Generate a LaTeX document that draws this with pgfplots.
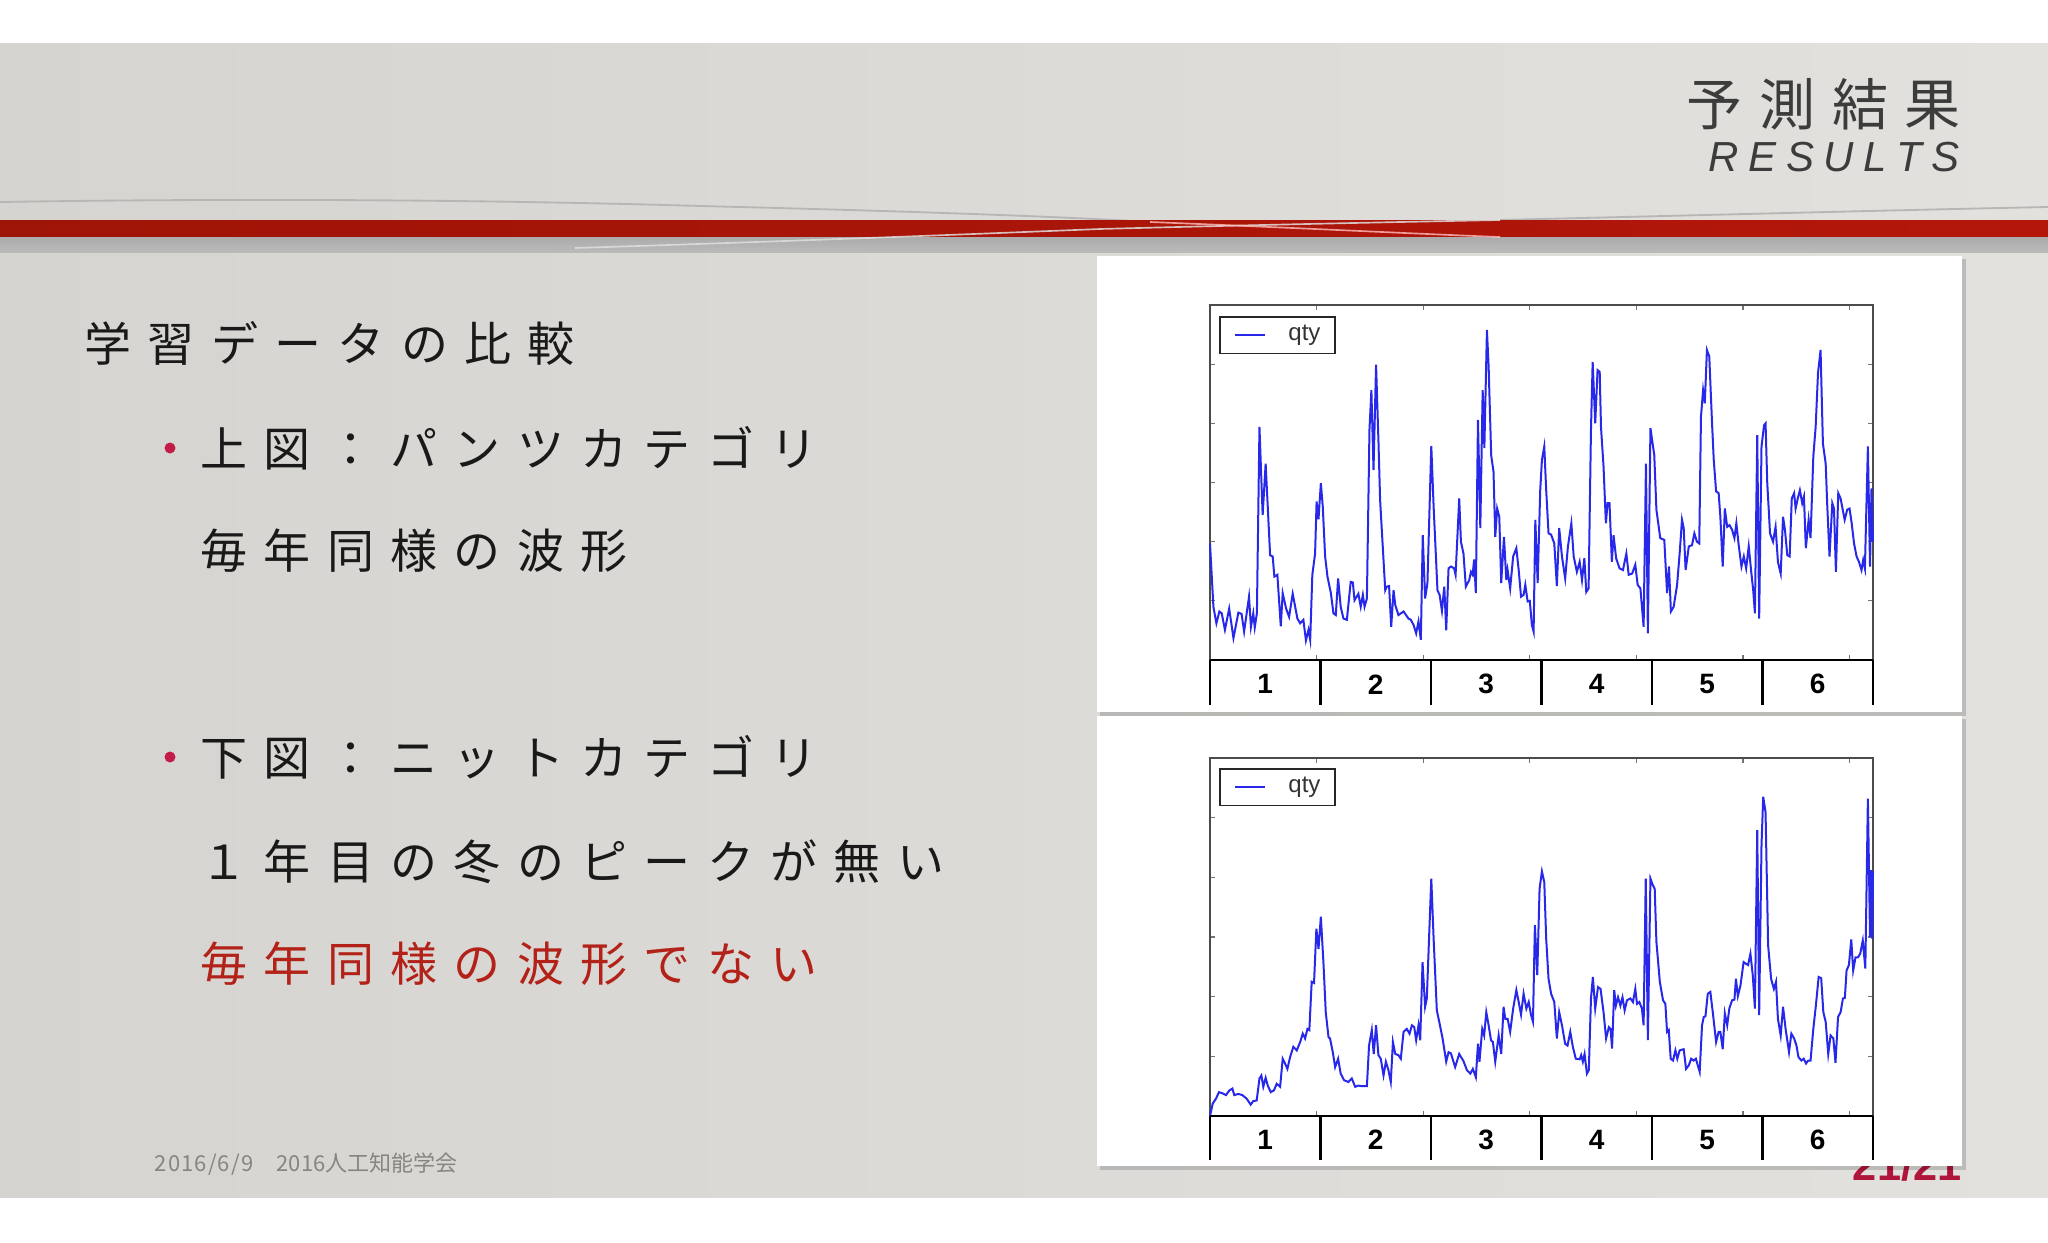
\documentclass[border=0pt]{standalone}
\usepackage{pgfplots}
\pgfplotsset{compat=1.18}
\usepackage{fontspec}
\setmainfont{Liberation Sans}
\newfontfamily\jp{Noto Sans CJK JP}
\newfontfamily\lsans{Liberation Sans}
\definecolor{plotblue}{RGB}{40,40,235}
\definecolor{titlegray}{RGB}{60,60,60}
\definecolor{bodyred}{RGB}{178,34,24}
\definecolor{bulletred}{RGB}{196,28,72}
\definecolor{footgray}{RGB}{135,132,130}
\definecolor{pagered}{RGB}{176,22,60}
\definecolor{bgleft}{RGB}{214,212,208}
\definecolor{bgmid}{RGB}{231,229,226}
\definecolor{bgright}{RGB}{226,225,222}
\definecolor{redA}{RGB}{158,20,6}
\definecolor{redB}{RGB}{212,30,12}
\definecolor{redC}{RGB}{180,22,10}
\definecolor{curvegray}{RGB}{182,182,180}
\makeatletter
\newcommand\ls[2]{\def\ls@k{#1}\ls@loop#2\relax}
\def\ls@loop#1{\ifx\relax#1\else#1\kern\ls@k\relax\expandafter\ls@loop\fi}
\makeatother
\newcommand\bodyfont{\jp\fontsize{14.1pt}{16pt}\selectfont}
\newcommand\labfont{\lsans\bfseries\fontsize{8.4pt}{9pt}\selectfont}

\pgfplotstableread{
w v
0 1.97
1.6 0.9
3 0.62
4.4 0.82
5.5 0.79
7 0.51
9 0.87
11 0.37
13.3 0.8
14.8 0.78
16 0.48
18.3 1.07
19.2 0.56
20.3 0.79
21 0.55
22 0.79
23.2 3.94
24.7 2.45
26.1 3.32
28.2 1.77
29.4 1.75
30.2 1.41
31.6 1.44
33.2 0.57
34.1 1.13
35.7 0.87
37.1 0.73
38.8 1.12
41 0.7
42.3 0.62
43.8 0.68
45 0.33
46.2 0.51
47 0.34
48 1.44
49.3 1.8
50 2.68
50.9 2.38
52 2.99
52.9 2.59
54 1.75
55.1 1.41
56.7 1.13
57.9 0.79
59 0.76
60.1 1.38
61.3 0.9
62.6 0.7
64.2 0.68
66 1.32
67 1.31
67.8 1.01
69.6 1.12
70.7 0.9
71.7 1.1
72.5 0.9
73.6 1.04
74.8 3.89
75.7 4.56
76.7 3.21
77.9 4.99
79 3.72
79.8 2.7
82.2 1.18
82.9 1.24
84 1.25
85 0.56
86.1 1.18
86.9 0.93
88.4 0.76
90.8 0.82
93.1 0.7
94.2 0.68
95.5 0.59
96.7 0.45
97.8 0.65
98.9 0.34
99.8 2.11
100.9 1.04
102 1.3
103.8 3.62
104.9 2.59
106.7 1.18
107.7 1.1
108.8 0.83
109.9 1.24
110.8 0.5
111.9 1.55
113 1.58
114.5 1.55
115.2 1.44
116.9 2.73
117.7 2.0
118.9 1.8
120 1.24
121.6 1.35
122.4 1.49
123.2 1.44
123.9 1.7
124.7 1.13
125.7 4.06
126.8 2.23
127.9 4.56
128.7 3.58
129.9 5.58
130.7 4.96
131.9 3.46
133 3.18
133.8 2.08
134.7 2.56
135.7 2.42
136.6 1.3
137.9 2.08
139 1.35
139.6 1.52
140.8 1.21
142.2 1.75
143.7 1.89
144.8 1.52
145.9 1.07
147.1 1.1
147.9 1.27
149 0.99
150 1.0
151 0.59
151.8 0.48
152.6 2.37
153.7 1.3
154.9 2.87
155.7 3.38
156.8 3.61
157.7 2.87
158.8 2.14
160 2.12
161.5 1.97
162.7 1.25
163.8 2.23
165.1 1.75
166.6 1.38
167.9 1.92
169.5 2.31
170.6 1.75
172.1 1.49
173.4 1.66
174.5 1.35
175.6 1.72
176.5 1.15
177.6 1.21
178.7 3.89
179.5 5.04
180.7 4.0
181.8 4.9
182.8 4.87
183.4 3.94
184.6 3.27
185.7 2.31
186.5 2.65
187.4 2.65
188.5 1.66
189.3 2.11
190.5 1.72
192.1 1.55
193.7 1.52
195.3 1.8
196.4 1.44
198 1.46
199.5 1.61
200.6 1.27
201.9 1.21
203.4 0.56
204.5 3.32
205.4 0.45
206.6 3.92
208.4 3.46
209.4 2.54
211.2 2.06
213.1 2.03
214.4 1.13
215.3 1.58
216.2 0.82
217.5 0.9
219.1 1.27
220.3 1.8
221.4 2.37
222.2 2.23
223.1 1.52
224.6 1.92
226.1 1.94
227.2 2.14
228.4 2.0
229.5 1.97
230.3 4.11
231.3 4.56
232.1 4.34
233.1 5.24
234.2 5.13
235.5 4.0
236.3 3.38
237.4 2.85
238.6 2.82
239.4 2.42
240.5 1.58
241.5 2.56
242.6 2.25
243.7 2.28
244.9 2.2
246 2.06
246.9 2.31
248 1.94
249.3 1.58
250.4 1.75
251.5 1.55
252.7 1.92
253.8 1.52
254.8 1.18
255.6 0.79
256.7 3.8
257.6 0.7
258.7 3.61
259.9 3.97
260.6 4.0
261.4 2.99
262.7 2.14
264.1 2.0
265.3 2.25
266.4 1.66
267.7 1.46
268.8 2.42
269.7 2.2
270.8 1.77
271.9 1.75
272.9 2.73
274 2.82
274.7 2.56
275.7 2.73
276.7 2.87
277.8 2.65
278.6 2.76
279.5 1.89
280.8 2.37
281.7 2.06
283 3.44
284.1 3.94
285.2 4.85
286.4 5.24
287.5 3.66
288.8 3.32
289.5 2.65
290.6 1.75
291.9 2.65
292.7 2.56
293.6 1.49
294.7 2.82
295.8 2.73
297.7 2.37
298.9 2.54
300 2.56
301 2.31
302.1 1.97
303.3 1.75
304.4 1.66
305.6 1.52
306.4 1.69
307.2 1.55
308.6 3.61
309.6 1.58
310.3 2.9
311 2.0
}\toppants

\pgfplotstableread{
w v
0 0
1.3 0.21
2.8 0.29
4.2 0.4
5.9 0.38
7.5 0.35
9.1 0.43
10.5 0.46
11.4 0.35
13.3 0.37
15.2 0.35
17.2 0.29
19.1 0.19
20.3 0.25
21.9 0.26
23.2 0.63
24.1 0.68
25 0.49
26.1 0.64
27.1 0.51
28.5 0.4
30 0.43
31.3 0.54
32.9 0.49
34.1 0.96
35.2 0.88
36.3 0.79
37.6 0.99
39.1 1.16
40.7 1.1
42.3 1.24
43.5 1.38
44.6 1.3
45.7 1.46
46.6 1.44
47.7 2.25
48.8 2.23
49.9 3.14
50.9 2.8
52 3.34
53.2 2.58
54.3 1.74
55.6 1.32
56.3 1.3
57.6 1.07
58.7 0.82
60.1 0.96
61.3 0.71
62.9 0.6
64.9 0.57
66.5 0.63
68.1 0.49
69.6 0.51
71.2 0.5
73.6 0.5
74.6 1.18
75.9 1.44
76.8 1.04
77.9 1.52
79 1.02
80.1 0.96
81.4 0.68
82.5 0.91
83.7 0.77
84.8 0.57
85.8 1.24
86.9 1.04
88.4 1.02
89.5 0.96
90.8 1.41
92.3 1.46
93.6 1.38
94.7 1.52
95.8 1.49
96.7 1.27
97.8 1.52
98.6 1.27
99.7 2.58
100.9 1.83
101.7 1.97
103.8 3.98
104.9 2.97
106.4 1.77
107.7 1.55
109.1 1.3
110.8 0.91
111.9 1.07
113 1.05
115 0.82
116.9 1.04
118.9 0.92
120.5 0.77
122.1 0.71
123.3 0.79
124.7 0.65
125.7 1.21
126.4 0.91
127.7 1.46
128.6 1.35
129.6 1.74
130.7 1.52
131.8 1.27
132.7 1.24
133.8 0.91
135.4 1.35
136.6 1.04
137.7 1.83
138.5 1.63
139.6 1.63
140.8 1.41
142.2 1.8
143.7 2.11
144.8 1.91
145.9 1.7
147.1 2.05
148.4 1.8
149.5 1.91
150.6 1.69
151.5 1.58
152.4 3.2
153.5 2.36
154.6 3.81
155.7 4.1
156.8 3.92
157.7 2.97
158.8 2.3
160 2.05
161.5 1.91
162.7 1.3
163.8 1.74
165.1 1.52
166.6 1.21
167.7 1.18
169 1.41
170.2 1.16
171.6 0.96
173.4 0.95
174.1 1.02
174.9 0.91
175.7 1.04
176.8 0.71
177.7 0.77
178.7 1.97
179.6 2.33
180.7 1.8
182 2.16
183.2 2.13
184.6 1.74
185.8 1.3
187.1 1.49
187.9 1.46
188.6 1.13
189.6 2.11
190.4 1.85
191.4 1.99
192.5 1.85
193.5 1.99
194.5 1.77
195.6 1.94
197.2 1.97
198.4 1.91
199.5 2.13
200.3 1.88
201.4 1.91
202.6 1.8
203.4 1.52
204.4 3.98
205.4 1.27
206.6 3.98
207.7 3.87
208.6 3.81
209.4 2.92
211 2.25
212.5 1.94
213.6 1.88
214.4 1.41
215.2 1.44
216.1 0.96
217.2 0.93
218.3 1.1
219.2 0.96
220.3 1.1
222.2 1.12
223.3 0.79
224.6 0.85
225.7 0.96
226.8 0.93
227.9 0.96
228.8 0.85
229.7 0.74
230.8 1.52
231.6 1.66
232.4 1.67
233.5 2.05
234.7 2.08
236 1.69
237.4 1.24
238.6 1.41
239.4 1.41
240.5 1.12
241.5 1.72
242.6 1.52
243.6 1.8
244.9 1.94
246 1.95
246.7 2.3
247.6 2.01
248.8 2.18
250.3 2.58
251.5 2.55
252.4 2.53
253.5 2.72
254.6 2.36
255.6 1.8
256.7 4.79
257.6 1.69
258.7 4.54
259.5 5.35
260.6 5.09
261.8 2.86
263.2 2.3
264.5 2.13
265.5 2.25
266.4 1.63
267.7 1.35
268.8 1.83
270 1.46
271.6 1.07
272.7 1.38
274 1.3
275.1 1.18
276 0.99
277.4 0.93
278.5 0.96
279.6 0.88
280.6 0.93
281.7 0.93
283 1.46
284.2 1.85
285.5 2.33
286.7 2.31
287.7 1.74
288.8 1.58
290 1.04
291.1 1.35
292.4 1.3
293.4 0.89
294.6 1.66
295.8 1.74
296.9 1.97
297.8 1.98
298.6 2.44
299.7 2.53
300.8 2.96
301.7 2.44
302.8 2.66
304 2.66
305 2.72
306.2 2.94
307.4 2.47
308.6 5.32
309.6 3.0
310.2 4.12
310.7 2.97
311 4.1
}\bottomknit

\pgfplotsset{
  slideaxis/.style={
    anchor=south west,
    scale only axis,
    width=198.9pt,
    xmin=0, xmax=311, ymin=0, ymax=6,
    xtick={50,100,150,200,250,300},
    ytick={1,2,3,4,5},
    xticklabels={}, yticklabels={},
    tick align=inside,
    major tick length=1.5pt,
    tick style={draw=black!55, line width=0.35pt},
    axis line style={draw=black!70, line width=0.4pt},
    clip=false,
    legend cell align=left,
    legend image code/.code={\draw[##1] (0pt,0pt) -- (9pt,0pt);},
    legend style={anchor=north west, draw=black!85, line width=0.45pt,
      fill=white, inner xsep=4.4pt, inner ysep=2.4pt, column sep=6.6pt,
      font=\fontsize{7.2pt}{8pt}\selectfont, text=black!80,
      nodes={inner sep=0pt, text height=4.6pt, text depth=1.6pt}},
  },
  tablebelow/.style={
    after end axis/.append code={
      \draw[black, line width=0.8pt] (rel axis cs:0,0) -- (rel axis cs:1,0);
      \foreach \k in {0,1,2,3,4,5,6}{
        \draw[black, line width=0.65pt] (rel axis cs:\k/6,0) -- ++(0pt,-#1);
      }
      \foreach \k in {1,2,3,4,5,6}{
        \node[font=\labfont, inner sep=0pt] at ([yshift=-0.54*#1]rel axis cs:{(\k-0.5)/6},0) {\k};
      }
    }
  }
}

\begin{document}
\begin{tikzpicture}
\begin{scope}[x=0.3pt, y=-0.3pt]
  \path[use as bounding box] (0,0) rectangle (2048,1243);
  \fill[white] (0,0) rectangle (2048,1243);
  % slide background
  \shade[left color=bgleft, middle color=bgmid, right color=bgright] (0,44) rectangle (2048,1197);
  % curved lines
  \draw[curvegray, line width=0.55pt] (0,202) .. controls (250,198) and (500,200) .. (700,206) .. controls (900,211) and (1050,216) .. (1150,222);
  \draw[curvegray, line width=0.55pt] (1500,220) .. controls (1750,214) and (1900,210) .. (2048,207);
  % red stripe
  \shade[left color=redA, middle color=redB, right color=redC] (0,221) rectangle (2048,237);
  \shade[top color=black!33, bottom color=black!27] (0,237) rectangle (2048,252);
  \draw[white!75!gray, line width=0.5pt, opacity=0.85] (575,248) .. controls (800,241) and (1000,233) .. (1100,229) .. controls (1250,225) and (1400,222) .. (1500,220);
  \draw[white!75!red, line width=0.5pt, opacity=0.8] (1150,222) .. controls (1300,228) and (1420,234) .. (1500,237);
  % title
  \node[anchor=base west, inner sep=0pt, text=titlegray, font=\jp\fontsize{16.8pt}{18pt}\selectfont] at (1686,126) {\ls{5pt}{予測結果}};
  \node[anchor=base west, inner sep=0pt, text=titlegray, font=\lsans\itshape\fontsize{12.6pt}{14pt}\selectfont] at (1708,172) {\ls{2.85pt}{RESULTS}};
  % body text
  \node[anchor=base west, inner sep=0pt, text=black!90, font=\bodyfont] at (84,361) {\ls{4.9pt}{学習データの比較}};
  \fill[bulletred] (170,448) circle (5.5);
  \node[anchor=base west, inner sep=0pt, text=black!90, font=\bodyfont] at (200,466) {\ls{4.9pt}{上図：パンツカテゴリ}};
  \node[anchor=base west, inner sep=0pt, text=black!90, font=\bodyfont] at (200,568) {\ls{4.9pt}{毎年同様の波形}};
  \fill[bulletred] (170,757) circle (5.5);
  \node[anchor=base west, inner sep=0pt, text=black!90, font=\bodyfont] at (200,775) {\ls{4.9pt}{下図：ニットカテゴリ}};
  \node[anchor=base west, inner sep=0pt, text=black!90, font=\bodyfont] at (200,879) {\ls{4.9pt}{１年目の冬のピークが無い}};
  \node[anchor=base west, inner sep=0pt, text=bodyred, font=\bodyfont] at (200,981) {\ls{4.9pt}{毎年同様の波形でない}};
  % footer
  \node[anchor=base west, inner sep=0pt, text=footgray, font=\jp\fontsize{6.6pt}{8pt}\selectfont] at (154,1171) {\ls{0.35pt}{2016/6/9}};
  \node[anchor=base west, inner sep=0pt, text=footgray, font=\jp\fontsize{6.6pt}{8pt}\selectfont] at (276,1171) {2016人工知能学会};
  % page number (mostly hidden)
  \node[anchor=base east, inner sep=0pt, text=pagered, font=\lsans\bfseries\fontsize{13pt}{14pt}\selectfont] at (1962,1180) {21/21};
  % panels
  \fill[black, opacity=0.16] (1100,259) rectangle (1966,716);
  \fill[black, opacity=0.16] (1100,719) rectangle (1966,1170);
  \fill[white] (1097,256) rectangle (1962,712);
  \fill[white] (1097,716) rectangle (1962,1166);
\end{scope}

\begin{axis}[slideaxis, tablebelow=13.5pt, at={(363pt,-198pt)}, height=106.5pt,
  legend style={at={(0.0136,0.969)}}]
  \addplot[plotblue, line width=0.6pt] table[x=w, y=v] {\toppants};
  \addlegendentry{qty}
\end{axis}

\begin{axis}[slideaxis, tablebelow=13.2pt, at={(363pt,-334.8pt)}, height=107.4pt,
  legend style={at={(0.0136,0.972)}}]
  \addplot[plotblue, line width=0.6pt] table[x=w, y=v] {\bottomknit};
  \addlegendentry{qty}
\end{axis}
\end{tikzpicture}
\end{document}
